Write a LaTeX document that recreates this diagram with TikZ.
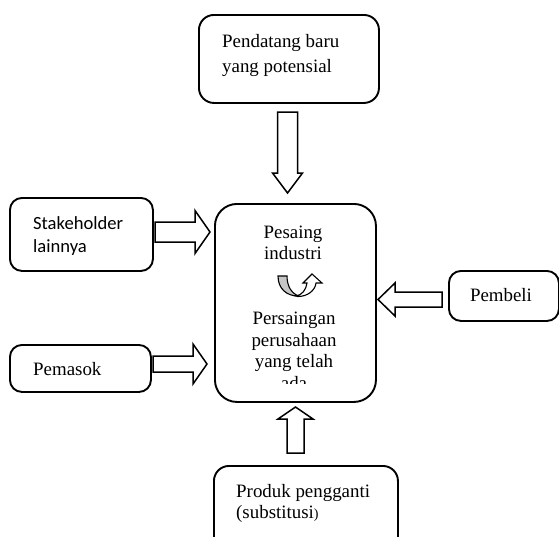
\documentclass[tikz,border=0pt]{standalone}
\usepackage{fontspec}
\setmainfont{Liberation Serif}
\newfontfamily\calib{Carlito}
\begin{document}
\begin{tikzpicture}[x=1pt,y=-1pt,
  box/.style={draw, line width=1.9pt, inner sep=0pt, anchor=north west},
  barrow/.style={draw, line width=1.5pt, line join=miter, fill=white},
  lbl/.style={inner sep=0pt, font=\fontsize{18.9}{22}\selectfont},
  pics/blockarr/.style n args={4}{code={
    \draw[barrow] (0,-#2) -- (#1-#4,-#2) -- (#1-#4,-#3) -- (#1,0) -- (#1-#4,#3) -- (#1-#4,#2) -- (0,#2) -- cycle;}}
  ]
\clip (0,0) rectangle (559,536);
% boxes
\node[box, rounded corners=15pt, minimum width=180, minimum height=88] (top) at (198,14) {};
\node[box, rounded corners=12pt, minimum width=143, minimum height=73] (stake) at (9,197) {};
\node[box, rounded corners=12pt, minimum width=141, minimum height=47] (pemasok) at (9,344) {};
\node[box, rounded corners=22pt, minimum width=161, minimum height=198] (comp) at (214,203) {};
\node[box, rounded corners=12pt, minimum width=110, minimum height=50] (pembeli) at (448,270) {};
\node[box, rounded corners=15pt, minimum width=184, minimum height=100] (subst) at (213,465) {};
% texts
\node[lbl, anchor=base west] (t1) at (222,47) {Pendatang baru};
\node[lbl, anchor=base west] (t2) at (222,72) {yang potensial};
\node[lbl, anchor=base west, font=\calib\fontsize{18.6}{22}\selectfont] (s1) at (33,229) {Stakeholder};
\node[lbl, anchor=base west, font=\calib\fontsize{18.6}{22}\selectfont] (s2) at (33,252) {lainnya};
\node[lbl, anchor=base west] (pm) at (33,375) {Pemasok};
\node[lbl, anchor=base] (pb) at (501,301) {Pembeli};
\node[lbl, anchor=base west] (b1) at (236,497) {Produk pengganti};
\node[lbl, anchor=base west] (b2) at (236,518) {(substitusi\fontsize{14}{16}\selectfont)};
\begin{scope}
\clip (214,200) rectangle (375,383);
\node[lbl, anchor=base] (c1) at (293,238) {Pesaing};
\node[lbl, anchor=base] (c2) at (293,259) {industri};
\node[lbl, anchor=base] (c3) at (294,324) {Persaingan};
\node[lbl, anchor=base] (c4) at (294,346) {perusahaan};
\node[lbl, anchor=base] (c5) at (294,367) {yang telah};
\node[lbl, anchor=base] (c6) at (294,389) {ada};
\end{scope}
% curved arrow
\draw[line width=1.1pt, fill=gray!45] (278,276) -- (287,276) .. controls (287,287) and (292,293) .. (298,296)
   .. controls (287,296) and (278,289) .. cycle;
\draw[line width=1.1pt, fill=white, line join=miter] (296,296) .. controls (302,295) and (306,290) .. (307,283)
   -- (303,283) -- (312,274) -- (322,283) -- (316,283)
   .. controls (315,291) and (307,296.5) .. (298,296.5) -- cycle;
% block arrows
\pic[rotate=-90] at (287.5,112) {blockarr={81}{10}{15}{20}};
\pic at (155,232) {blockarr={55}{10}{21.5}{15}};
\pic at (153,364) {blockarr={54}{8}{20}{14}};
\pic[rotate=180] at (442,299.5) {blockarr={64}{7.5}{16.5}{17}};
\pic[rotate=90] at (295.5,453) {blockarr={46}{8.5}{17.5}{12}};
\end{tikzpicture}
\end{document}
